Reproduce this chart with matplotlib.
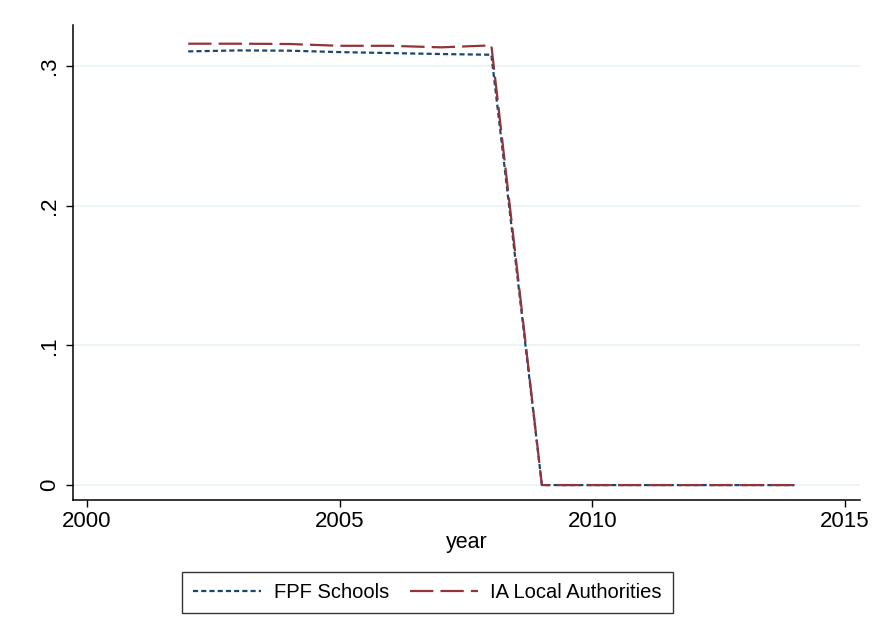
import matplotlib.pyplot as plt
import numpy as np

plt.rcParams['font.family'] = ['Liberation Sans', 'DejaVu Sans']

years = [2002, 2003, 2004, 2005, 2006, 2007, 2008, 2009, 2010, 2011, 2012, 2013, 2014]
fpf_schools = [0.3105, 0.3112, 0.3110, 0.3100, 0.3093, 0.3086, 0.3081, 0, 0, 0, 0, 0, 0]
ia_local = [0.3160, 0.3160, 0.3158, 0.3145, 0.3145, 0.3134, 0.3148, 0, 0, 0, 0, 0, 0]

x_ticks = [2000, 2005, 2010, 2015]
y_ticks = [0, 0.1, 0.2, 0.3]
y_labels = ['0', '.1', '.2', '.3']

blue = '#1a476f'
red = '#90353b'

fig = plt.figure(figsize=(8.76, 6.36), dpi=100)
ax = fig.add_axes([0.0833, 0.2138, 0.8987, 0.7469])

ax.plot(years, fpf_schools, color=blue, lw=1.6, dashes=(2.3, 1.4), label='FPF Schools')
ax.plot(years, ia_local, color=red, lw=1.6, dashes=(10.5, 3.2), label='IA Local Authorities')

ax.set_xlim(1999.72, 2015.30)
ax.set_ylim(-0.0107, 0.3294)
ax.set_xticks(x_ticks)
ax.set_yticks(y_ticks)
ax.set_yticklabels(y_labels, rotation=90, va='center')
ax.tick_params(labelsize=16, length=5, width=1, direction='out', pad=3)
ax.tick_params(axis='y', pad=4)
ax.grid(axis='y', color='#eaf2f3', lw=1.2)
ax.set_axisbelow(True)
for s in ['top', 'right']:
    ax.spines[s].set_visible(False)
for s in ['left', 'bottom']:
    ax.spines[s].set_linewidth(1.1)
ax.set_xlabel('year', fontsize=15.5, labelpad=0)

fig.legend(loc='center', bbox_to_anchor=(0.488, 0.068), ncol=2, fontsize=14.5,
           frameon=True, fancybox=False, edgecolor='black', handlelength=3.4,
           handletextpad=0.6, columnspacing=1.05, borderpad=0.55)
fig.legends[0].get_frame().set_linewidth(1.0)

plt.savefig('out.png', dpi=100)
